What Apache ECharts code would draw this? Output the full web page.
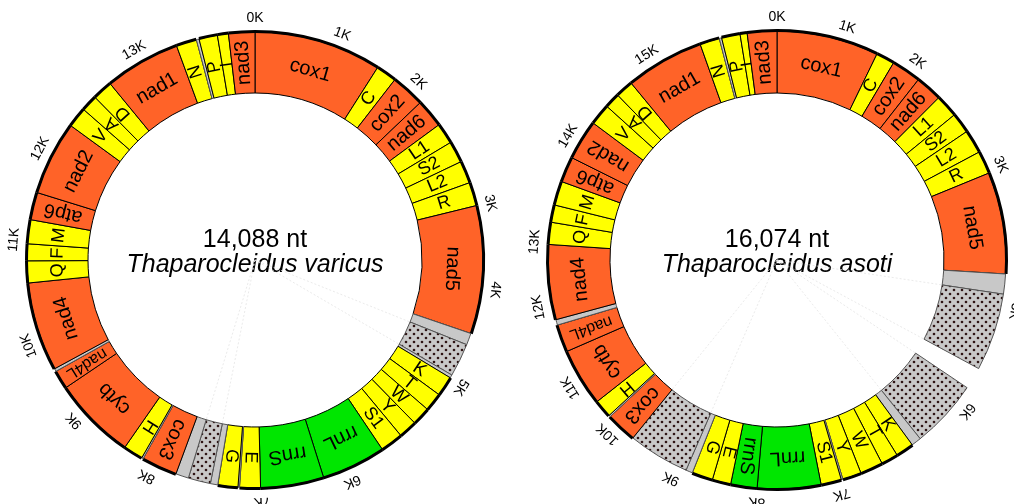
<!DOCTYPE html>
<html lang="en">
<head>
<meta charset="UTF-8">
<title>Thaparocleidus mitogenomes</title>
<script src="https://cdn.jsdelivr.net/npm/echarts@6/dist/echarts.min.js"></script>
</head>
<body style="margin:0;background:#fff">
<div id="main" style="width:1014px;height:504px;"></div>
<script>
// feature starts (bp), clockwise from cox1
// types: p protein, t tRNA, r rRNA, n non-coding, d repeat region, x gap
var varicusTotal = 14088;
var varicusNames = ['cox1','C','cox2','nad6','L1','S2','L2','R','nad5','','','','K','T','W','Y','S1','rrnL','rrnS','E','','G','','','','cox3','','H','cytb','nad4L','','nad4','Q','F','M','atp6','nad2','V','A','D','nad1','N','','P','I','nad3'];
var varicusStarts = [0,1272,1479,1816,2101,2309,2524,2747,2982,4258,4375,4708,4739,4939,5123,5306,5490,5717,6359,6989,7197,7212,7412,7486,7709,7838,8194,8210,8406,9235,9423,9451,10339,10558,10726,10965,11239,11979,12182,12346,12546,13301,13505,13532,13716,13826];
var varicusTypes = ['p','t','p','p','t','t','t','t','p','n','d','n','t','t','t','t','t','r','r','t','n','t','n','d','n','p','n','t','p','p','n','p','t','t','t','p','p','t','t','t','p','t','n','t','t','p'];
var varicusTicks = [0,826,1663,2990,3800,4763,6117,6978,8085,8938,9756,10754,11638,12914];
var varicusTickLabels = ['0K','1K','2K','3K','4K','5K','6K','7K','8K','9K','10K','11K','12K','13K'];

var asotiTotal = 16074;
var asotiNames = ['cox1','C','cox2','nad6','L1','S2','L2','R','nad5','','','','','','K','T','W','Y','','S1','rrnL','rrnS','E','G','','','cox3','','H','cytb','nad4L','','nad4','Q','F','M','atp6','nad2','V','A','D','nad1','N','','P','I','nad3'];
var asotiStarts = [0,1156,1366,1701,2005,2264,2496,2764,3023,4175,4402,5282,5532,6309,6421,6626,6818,7077,7291,7309,7541,8260,8559,8769,9006,9082,9778,10127,10145,10350,11006,11319,11381,12230,12480,12676,12949,13239,13694,13935,14109,14310,15199,15422,15449,15659,15739];
var asotiTypes = ['p','t','p','p','t','t','t','t','p','n','d','x','d','n','t','t','t','t','n','t','r','r','t','t','n','d','p','n','t','p','p','n','p','t','t','t','p','p','t','t','t','p','t','n','t','t','p'];
var asotiTicks = [0,750,1576,2987,3800,4563,5738,7349,8251,9194,10010,10640,11555,12247,13426,14627];
var asotiTickLabels = ['0K','1K','2K','3K','4K','5K','6K','7K','8K','9K','10K','11K','12K','13K','14K','15K'];

var speciesNames = ['Thaparocleidus varicus', 'Thaparocleidus asoti'];

var FONT = '"Liberation Sans", Arial, sans-serif';
var typeColor = { p: '#ff6328', t: '#ffff00', r: '#00e600', n: '#c8c8c8' };

// dotted fill for the repeat regions
var tile = document.createElement('canvas');
tile.width = 8; tile.height = 8;
var tg = tile.getContext('2d');
tg.fillStyle = '#c8c8c8';
tg.fillRect(0, 0, 8, 8);
tg.fillStyle = '#2e1414';
[[2, 2], [6, 6]].forEach(function (d) {
    tg.beginPath();
    tg.arc(d[0], d[1], 1.3, 0, Math.PI * 2);
    tg.fill();
});
var dotPattern = { image: tile, repeat: 'repeat' };

var measure = document.createElement('canvas').getContext('2d');
function textWidth(txt, size) {
    measure.font = size + 'px ' + FONT;
    return measure.measureText(txt).width;
}

function normAngle(a) {
    while (a > Math.PI) a -= Math.PI * 2;
    while (a <= -Math.PI) a += Math.PI * 2;
    return a;
}

function segData(starts, total) {
    return starts.map(function (s, i) {
        return [s, i + 1 < starts.length ? starts[i + 1] : total];
    });
}

function segRender(names, types) {
    return function (params, api) {
        var cs = params.coordSys;
        var i = params.dataIndex;
        var type = types[i];
        if (type === 'x') return null;
        var p0 = api.coord([0, api.value(0)]);
        var p1 = api.coord([0, api.value(1)]);
        var a0 = Math.atan2(p0[1] - cs.cy, p0[0] - cs.cx);
        var a1 = Math.atan2(p1[1] - cs.cy, p1[0] - cs.cx);
        var d = a1 - a0;
        while (d <= 0) d += Math.PI * 2;
        var children = [];
        if (type === 'd') {
            // faint guide lines from the centre to the repeat region
            [p0, p1].forEach(function (p) {
                children.push({
                    type: 'line',
                    shape: { x1: cs.cx, y1: cs.cy, x2: p[0], y2: p[1] },
                    style: { stroke: '#e4e4e4', lineWidth: 0.8, lineDash: [2, 2] }
                });
            });
        }
        children.push({
            type: 'sector',
            shape: { cx: cs.cx, cy: cs.cy, r0: cs.r0, r: cs.r, startAngle: a0, endAngle: a0 + d, clockwise: true },
            style: {
                fill: type === 'd' ? dotPattern : typeColor[type],
                stroke: (type === 'n' || type === 'd') ? '#555' : '#000',
                lineWidth: 1
            }
        });
        if (type !== 'n' && type !== 'd') {
            children.push({
                type: 'arc',
                shape: { cx: cs.cx, cy: cs.cy, r: cs.r + 0.5, startAngle: a0, endAngle: a0 + d, clockwise: true },
                style: { stroke: '#000', lineWidth: 3, fill: null }
            });
        }
        var name = names[i];
        if (name) {
            var am = a0 + d / 2;
            var rm = (cs.r0 + cs.r) / 2;
            var size = type === 't' ? 18 : 20;
            var w = textWidth(name, size);
            var arcLen = d * rm;
            var fits = w < arcLen - 2;
            var radialDir = Math.abs(normAngle(am));
            var tangentDir = Math.abs(normAngle(am + Math.PI / 2));
            var along;
            if (fits && arcLen > 44) {
                along = true;
            } else if (radialDir <= 140 * Math.PI / 180) {
                along = false;
            } else {
                along = fits && tangentDir < radialDir;
            }
            var rot;
            if (along) {
                rot = -(am + Math.PI / 2);
            } else {
                size = Math.min(size, Math.floor(size * 45 / w));
                rot = -am;
            }
            var pm = api.coord([0.5, (api.value(0) + api.value(1)) / 2]);
            children.push({
                type: 'text',
                x: pm[0], y: pm[1], rotation: rot,
                style: { text: name, font: size + 'px ' + FONT, fill: '#000', align: 'center', verticalAlign: 'middle' }
            });
        }
        return { type: 'group', children: children };
    };
}

function tickRender(labels) {
    return function (params, api) {
        var cs = params.coordSys;
        var p = api.coord([0, api.value(0)]);
        var a = Math.atan2(p[1] - cs.cy, p[0] - cs.cx);
        var rt = cs.r + 14;
        return {
            type: 'text',
            x: cs.cx + rt * Math.cos(a), y: cs.cy + rt * Math.sin(a),
            rotation: -(a + Math.PI / 2),
            style: { text: labels[params.dataIndex], font: '14px ' + FONT, fill: '#000', align: 'center', verticalAlign: 'middle' }
        };
    };
}

var chart = echarts.init(document.getElementById('main'), null, { renderer: 'canvas' });

var centers = [[255, 260], [777, 260]];
var totals = [varicusTotal, asotiTotal];

var option = {
    animation: false,
    backgroundColor: '#fff',
    polar: [
        { center: centers[0], radius: [167, 228] },
        { center: centers[1], radius: [167, 229] }
    ],
    angleAxis: [
        { polarIndex: 0, type: 'value', min: 0, max: varicusTotal, startAngle: 90, clockwise: true, show: false },
        { polarIndex: 1, type: 'value', min: 0, max: asotiTotal, startAngle: 90, clockwise: true, show: false }
    ],
    radiusAxis: [
        { polarIndex: 0, type: 'value', min: 0, max: 1, show: false },
        { polarIndex: 1, type: 'value', min: 0, max: 1, show: false }
    ],
    graphic: [0, 1].map(function (k) {
        return {
            type: 'group',
            silent: true,
            z: 100,
            children: [
                {
                    type: 'text', x: centers[k][0], y: 240,
                    style: { text: totals[k].toLocaleString('en-US') + ' nt', font: '25px ' + FONT, fill: '#000', align: 'center', verticalAlign: 'middle', textAlign: 'center', textVerticalAlign: 'middle' }
                },
                {
                    type: 'text', x: centers[k][0], y: 265,
                    style: { text: speciesNames[k], font: 'italic 25px ' + FONT, fill: '#000', align: 'center', verticalAlign: 'middle', textAlign: 'center', textVerticalAlign: 'middle' }
                }
            ]
        };
    }),
    series: [
        { type: 'custom', coordinateSystem: 'polar', polarIndex: 0, silent: true,
          renderItem: segRender(varicusNames, varicusTypes), data: segData(varicusStarts, varicusTotal) },
        { type: 'custom', coordinateSystem: 'polar', polarIndex: 0, silent: true,
          renderItem: tickRender(varicusTickLabels), data: varicusTicks.map(function (v) { return [v]; }) },
        { type: 'custom', coordinateSystem: 'polar', polarIndex: 1, silent: true,
          renderItem: segRender(asotiNames, asotiTypes), data: segData(asotiStarts, asotiTotal) },
        { type: 'custom', coordinateSystem: 'polar', polarIndex: 1, silent: true,
          renderItem: tickRender(asotiTickLabels), data: asotiTicks.map(function (v) { return [v]; }) }
    ]
};

chart.setOption(option);
</script>
</body>
</html>
